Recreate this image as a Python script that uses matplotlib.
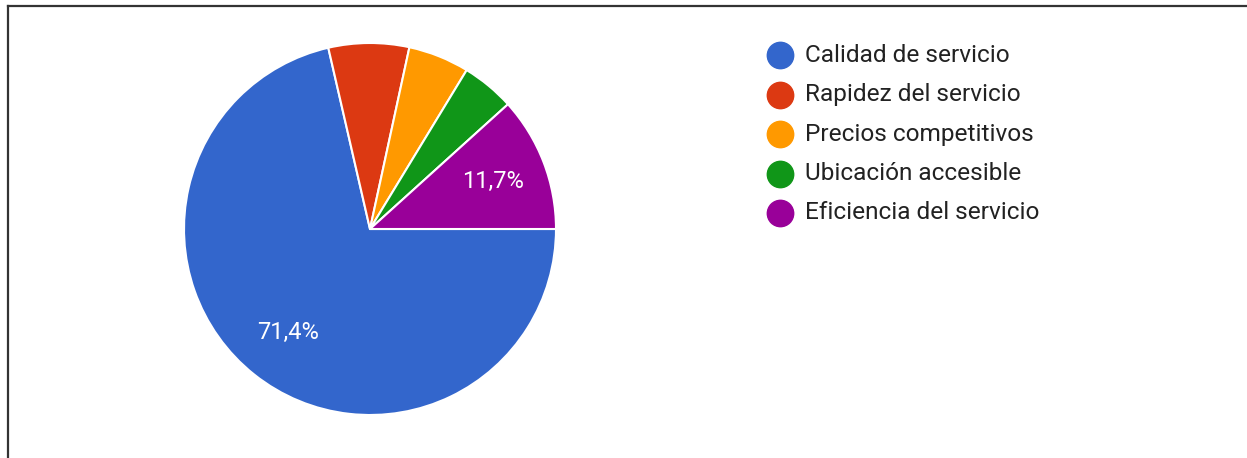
import matplotlib.pyplot as plt
from matplotlib.lines import Line2D

plt.rcParams['font.family'] = ['Roboto', 'DejaVu Sans']

W, H = 1247, 458

labels = ['Calidad de servicio', 'Rapidez del servicio', 'Precios competitivos',
          'Ubicación accesible', 'Eficiencia del servicio']
values = [71.4, 7.0, 5.3, 4.6, 11.7]
colors = ['#3366cc', '#dc3912', '#ff9900', '#109618', '#990099']


def pct_label(p):
    # small slices get no label
    if p < 10:
        return ''
    return f'{p:.1f}%'.replace('.', ',')


fig = plt.figure(figsize=(W / 100, H / 100), dpi=100)

# pie: centre at (370, 229) px, radius 186 px
cx, cy, r = 370, 229, 186
ax = fig.add_axes([(cx - r) / W, (H - cy - r) / H, 2 * r / W, 2 * r / H])
wedges, texts, autotexts = ax.pie(values, colors=colors, startangle=0, counterclock=False,
                                  autopct=pct_label, pctdistance=0.71,
                                  wedgeprops=dict(edgecolor='white', linewidth=1.5),
                                  textprops=dict(color='white', fontsize=17))
ax.set_xlim(-1, 1)
ax.set_ylim(-1, 1)
ax.set_aspect('equal')

# legend on the right
for i, (name, col) in enumerate(zip(labels, colors)):
    y = 1 - (55 + i * 39.5) / H
    fig.add_artist(Line2D([780 / W], [y], marker='o', markersize=19, color=col,
                          linestyle='none', transform=fig.transFigure))
    fig.text(805 / W, y, name, fontsize=17.6, color='#222222', va='center', ha='left')

# box lines around the chart
fig.add_artist(Line2D([7.5 / W, 1], [1 - 5.5 / H, 1 - 5.5 / H], color='#333333',
                      linewidth=1.6, transform=fig.transFigure))
fig.add_artist(Line2D([7.5 / W, 7.5 / W], [0, 1 - 5.5 / H], color='#333333',
                      linewidth=1.6, transform=fig.transFigure))

fig.savefig('out.png', dpi=100, facecolor='white')
